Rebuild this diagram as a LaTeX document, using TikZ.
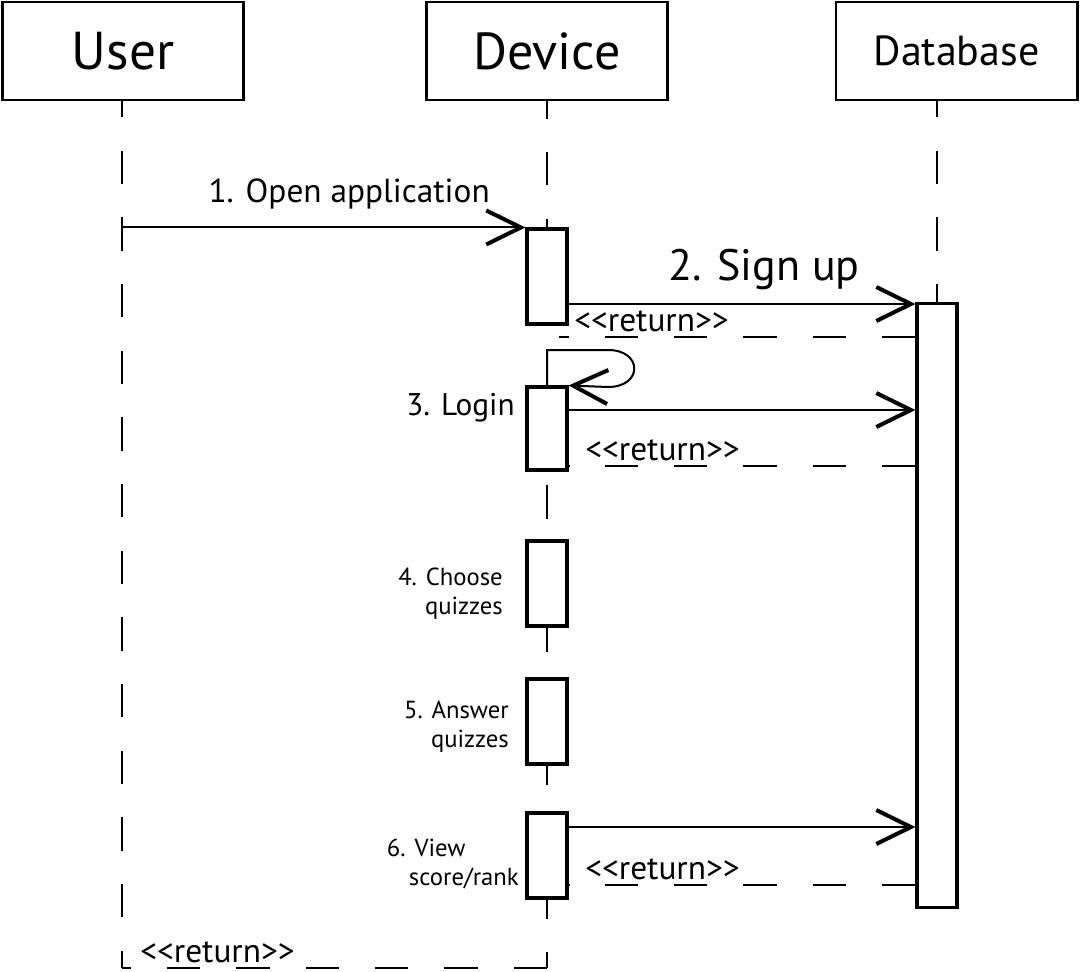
\documentclass[tikz,border=0pt]{standalone}
\usepackage{fontspec}
\setmainfont{PT Sans}
\usetikzlibrary{arrows.meta,positioning}
\newcommand{\retmark}{<\kern0pt<return>\kern0pt>}

\begin{document}
\begin{tikzpicture}[
    x=0.75pt,
    y=-0.75pt,
    actor node/.style={rectangle,draw,line width=2pt,minimum width=181pt,minimum height=73.5pt,inner sep=0pt},
    act node/.style={rectangle,draw,fill=white,line width=2.3pt,minimum width=30pt,inner sep=0pt},
    life line/.style={line width=1.5pt,dash pattern=on 25pt off 25pt,dash phase=12pt},
    msg/.style={line width=1.5pt,-{Straight Barb[length=26pt,width=25.5pt,line width=3pt]}},
    ret/.style={line width=1.5pt,dash pattern=on 25pt off 27pt},
    msg label/.style={inner sep=0pt,font=\fontsize{25}{30}\selectfont},
    ret label/.style={inner sep=0pt,anchor=base west,font=\fontsize{25}{28}\selectfont},
    step label/.style={inner sep=0pt,align=right,anchor=east,font=\fontsize{18.5}{22}\selectfont}
]
\useasboundingbox (0,0) rectangle (1080,971);

% Actors
\node[actor node] (user) at (123,51) {\fontsize{40}{46}\selectfont User};
\node[actor node] (device) at (547,51) {\fontsize{39}{46}\selectfont Device};
\node[actor node] (database) at (956.5,51) {\fontsize{31.5}{34}\selectfont Database};

% Lifelines
\coordinate (userend) at (122,968);
\coordinate (deviceend) at (547,968);
\coordinate (dbtop) at (937,100);
\draw[life line] (122,100) -- (userend);
\draw[life line] (device.south) -- (deviceend);
\draw[life line] (dbtop) -- (937,304);

% Activations
\node[act node,minimum height=71.25pt] (act1) at (547,276.5) {};
\node[act node,minimum height=62.25pt] (act2) at (547,428.5) {};
\node[act node,minimum height=63.75pt] (act3) at (547,583.5) {};
\node[act node,minimum height=63.75pt] (act4) at (547,721.5) {};
\node[act node,minimum height=63.75pt] (act5) at (547,855.5) {};
\node[act node,minimum height=453pt] (dbact) at (937,605.5) {};

% Messages
\draw[msg] (userend |- act1.north west) -- (act1.north west);
\node[msg label,anchor=base east] (open) at (490,202) {1. Open application};

\draw[msg] (act1.east |- 0,304) -- (dbact.west |- 0,304);
\node[msg label,anchor=base east,font=\fontsize{33}{38}\selectfont] (signup) at (860,280) {2. Sign up};
\draw[ret] (dbact.west |- 0,337) -- ([xshift=-7.5pt]act1.east |- 0,337);
\node[ret label] (ret1) at (574,331) {\retmark};

\draw[msg] (act2.north) -- (547,350) -- (608,350)
    .. controls (643,350) and (643,387) .. (608,387) -- (act2.north east);
\node[msg label,anchor=base east,font=\fontsize{23.5}{28}\selectfont] (login) at (515,415) {3. Login};
\draw[msg] (act2.east |- 0,410) -- (dbact.west |- 0,410);
\draw[ret] (dbact.west |- 0,466) -- (act2.east |- 0,466);
\node[ret label] (ret2) at (585,460) {\retmark};

\node[step label] (choose) at (503,594) {4. Choose\\quizzes};
\node[step label] (answer) at (509,727) {5. Answer\\quizzes};

\node[step label,align=left] (view) at (519,864) {6. View\\\hspace*{16.5pt}score/rank};
\draw[msg] (act5.east |- 0,827) -- (dbact.west |- 0,827);
\draw[ret] (dbact.west |- 0,885) -- (act5.east |- 0,885);
\node[ret label] (ret3) at (585,879) {\retmark};

% Final return
\draw[ret] (deviceend) -- (userend);
\node[ret label] (ret4) at (140,962) {\retmark};

\end{tikzpicture}
\end{document}
